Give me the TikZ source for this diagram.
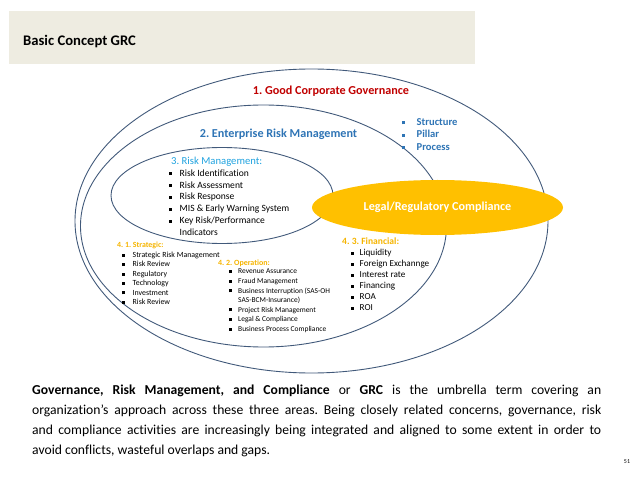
\documentclass[tikz,border=0pt]{standalone}
\usepackage{fontspec}
\setmainfont{Carlito}[Ligatures={TeX,NoCommon}]
\usepackage{xcolor}
\usetikzlibrary{positioning,shapes.geometric}

\definecolor{bandgray}{HTML}{EEECE1}
\definecolor{ringline}{HTML}{41597A}
\definecolor{gcgred}{HTML}{C00000}
\definecolor{ermblue}{HTML}{2E74B5}
\definecolor{rmblue}{HTML}{1FA2DF}
\definecolor{legalgold}{HTML}{FFC000}
\definecolor{subgold}{HTML}{F5B400}

\newcommand{\sqb}{\rule[0.2ex]{3bp}{3bp}}

\tikzset{
  ring/.style={draw=ringline,line width=0.9pt,ellipse,inner sep=0pt},
  listbox/.style={anchor=north west,inner sep=0pt,align=left},
}

\begin{document}
\frenchspacing
\begin{tikzpicture}[x=1bp,y=-1bp]
  \useasboundingbox (0,0) rectangle (638,479);
  % title band
  \fill[bandgray] (9,11) rectangle (475,64);
  \node[anchor=base west,inner sep=0pt,font=\fontsize{14.7}{17}\selectfont\bfseries] (title) at (23,46) {Basic Concept GRC};

  % rings
  \node[ring,minimum width=473bp,minimum height=304bp] (gcg) at (311.5,221) {};
  \node[ring,minimum width=366bp,minimum height=242bp] (erm) at (263.5,226) {};
  \node[ring,minimum width=222bp,minimum height=96bp] (rm) at (222,195.5) {};
  \node[ellipse,fill=legalgold,inner sep=0pt,minimum width=251bp,minimum height=55bp,
        text=white,font=\fontsize{12.2}{14}\selectfont\bfseries] (legal) at (437.5,207.5) {Legal/Regulatory Compliance};

  % ring labels
  \node[text=gcgred,font=\fontsize{12.2}{14}\selectfont\bfseries] (gcglabel) at (331,91.5) {1. Good Corporate Governance};
  \node[text=ermblue,font=\fontsize{12.2}{14}\selectfont\bfseries] (ermlabel) at (278.5,134) {2. Enterprise Risk Management};
  \node[listbox,text=ermblue,font=\fontsize{10.6}{12.5}\selectfont\bfseries] (ermlist) at (401.5,116.5) {%
    \begin{tabular}{@{}l@{\hspace{12bp}}l@{}}
      \sqb & Structure\\
      \sqb & Pillar\\
      \sqb & Process
    \end{tabular}};
  \node[anchor=west,inner sep=0pt,text=rmblue,font=\fontsize{10.7}{12}\selectfont] (rmlabel) at (171,162) {3. Risk Management:};
  \node[listbox,font=\fontsize{9.6}{12}\selectfont] (rmlist) at (168.5,167.5) {%
    \begin{tabular}{@{}l@{\hspace{8bp}}l@{}}
      \sqb & Risk Identification\\
      \sqb & Risk Assessment\\
      \sqb & Risk Response\\
      \sqb & MIS \& Early Warning System\\
      \sqb & Key Risk/Performance\\
           & Indicators
    \end{tabular}};

  % sub areas
  \node[anchor=west,inner sep=0pt,text=subgold,font=\fontsize{7.9}{9}\selectfont\bfseries] (strat) at (117,245) {4. 1. Strategic:};
  \node[listbox,font=\fontsize{7.9}{9.5}\selectfont] (stratlist) at (121.5,250.5) {%
    \begin{tabular}{@{}l@{\hspace{8bp}}l@{}}
      \sqb & Strategic Risk Management\\
      \sqb & Risk Review\\
      \sqb & Regulatory\\
      \sqb & Technology\\
      \sqb & Investment\\
      \sqb & Risk Review
    \end{tabular}};
  \node[anchor=west,inner sep=0pt,text=subgold,font=\fontsize{8}{9}\selectfont\bfseries] (oper) at (218,263) {4. 2. Operation:};
  \node[listbox,font=\fontsize{7.5}{9.6}\selectfont] (operlist) at (229,267) {%
    \begin{tabular}{@{}l@{\hspace{6bp}}l@{}}
      \sqb & Revenue Assurance\\
      \sqb & Fraud Management\\
      \sqb & Business Interruption (SAS-OH\\
           & SAS-BCM-Insurance)\\
      \sqb & Project Risk Management\\
      \sqb & Legal \& Compliance\\
      \sqb & Business Process Compliance
    \end{tabular}};
  \node[anchor=west,inner sep=0pt,text=subgold,font=\fontsize{9.6}{11}\selectfont\bfseries] (fin) at (342,241) {4. 3. Financial:};
  \node[listbox,font=\fontsize{9.2}{11}\selectfont] (finlist) at (350.5,248) {%
    \begin{tabular}{@{}l@{\hspace{6bp}}l@{}}
      \sqb & Liquidity\\
      \sqb & Foreign Exchannge\\
      \sqb & Interest rate\\
      \sqb & Financing\\
      \sqb & ROA\\
      \sqb & ROI
    \end{tabular}};

  % caption
  \node[anchor=north west,inner sep=0pt,text width=569bp,align=justify,
        font=\fontsize{13.7}{20}\selectfont] (caption) at (32,385) {%
    \textbf{Governance, Risk Management, and Compliance} or \textbf{GRC} is the umbrella term covering an\linebreak
    organization's approach across these three areas. Being closely related concerns, governance, risk\linebreak
    and compliance activities are increasingly being integrated and aligned to some extent in order to\linebreak
    avoid conflicts, wasteful overlaps and gaps.};
  \node[inner sep=0pt,font=\fontsize{6}{7}\selectfont] (pageno) at (627,462) {51};
\end{tikzpicture}
\end{document}
